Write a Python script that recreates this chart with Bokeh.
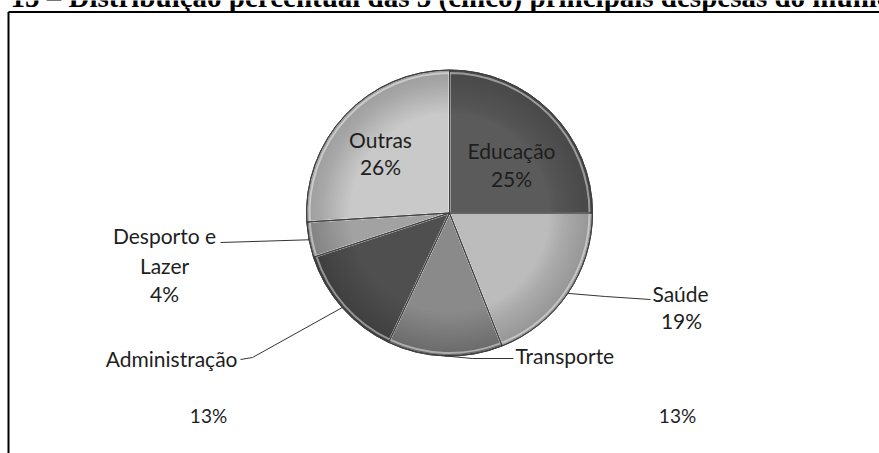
import numpy as np
from bokeh.plotting import figure
from bokeh.models import Range1d
from bokeh.core.properties import value
from bokeh.embed import file_html
from bokeh.resources import INLINE

# ---------------- data ----------------
title_text = "15 – Distribuição percentual das 5 (cinco) principais despesas do município"
categories = ["Educação", "Saúde", "Transporte", "Administração", "Desporto e Lazer", "Outras"]
shares = [25, 19, 13, 13, 4, 26]
pct_labels = ["25%", "19%", "13%", "13%", "4%", "26%"]
slice_colors = ["#5b5b5b", "#bcbcbc", "#8a8a8a", "#4f4f4f", "#a2a2a2", "#c9c9c9"]

# ---------------- layout ----------------
W, H = 879, 453
def Y(y):
    return H - y

CX, CY, R = 449.0, 212.5, 143.0
FONT = value("Lato")
FS = "21px"

p = figure(width=W, height=H, x_range=Range1d(0, W), y_range=Range1d(0, H),
           output_backend="svg", toolbar_location=None, min_border=0,
           x_axis_location=None, y_axis_location=None)
p.grid.visible = False
p.outline_line_color = None
p.background_fill_color = "white"
p.border_fill_color = "white"

# title (cut off at the top like the scan)
p.text(x=[10], y=[Y(-3.5)], text=[title_text], text_font=value("Liberation Serif"),
       text_font_style="bold", text_font_size="29px", text_baseline="middle",
       text_align="left", text_color="black")

# frame of the chart box
p.line(x=[8, W], y=[Y(11.5), Y(11.5)], line_color="black", line_width=2)
p.line(x=[8, 8], y=[Y(11.5), 0], line_color="black", line_width=2)

# ---------------- pie ----------------
vals = np.array(shares, dtype=float)
frac = vals / vals.sum()
cum = np.concatenate([[0.0], np.cumsum(frac)])
start = np.radians(90 - cum[:-1] * 360)
end = np.radians(90 - cum[1:] * 360)
mid = (start + end) / 2

cy = Y(CY)
p.wedge(x=CX, y=cy, radius=R, start_angle=start, end_angle=end, direction="clock",
        fill_color=slice_colors, line_color="#3a3a3a", line_width=1)
for k in range(16):
    r_in = R * (0.70 + 0.0185 * k)
    p.annular_wedge(x=CX, y=cy, inner_radius=r_in, outer_radius=R,
                    start_angle=start, end_angle=end, direction="clock",
                    fill_color="black", fill_alpha=0.011, line_color=None)
p.wedge(x=CX, y=cy, radius=R - 3, start_angle=start, end_angle=end, direction="clock",
        fill_color=None, line_color="white", line_alpha=0.45, line_width=2)
p.wedge(x=CX, y=cy, radius=R, start_angle=start, end_angle=end, direction="clock",
        fill_color=None, line_color="#404040", line_width=1)

# ---------------- labels ----------------
text_col = "#1e1e1e"
p.text(x=[511, 511, 380, 380], y=[Y(150), Y(178), Y(138.5), Y(166)],
       text=[categories[0], pct_labels[0], categories[5], pct_labels[5]],
       text_font=FONT, text_font_size=FS, text_align="center",
       text_baseline="middle", text_color=text_col)
p.text(x=[680, 681], y=[Y(293), Y(320)], text=[categories[1], pct_labels[1]],
       text_font=FONT, text_font_size=FS, text_align="center",
       text_baseline="middle", text_color=text_col)
p.text(x=[515], y=[Y(355)], text=[categories[2]], text_font=FONT, text_font_size=FS,
       text_align="left", text_baseline="middle", text_color=text_col)
p.text(x=[237], y=[Y(358)], text=[categories[3]], text_font=FONT, text_font_size=FS,
       text_align="right", text_baseline="middle", text_color=text_col)
desp_words = categories[4].split(" ")
p.text(x=[164, 164, 164], y=[Y(235), Y(265), Y(293)],
       text=[desp_words[0] + " " + desp_words[1], desp_words[2], pct_labels[4]],
       text_font=FONT, text_font_size=FS, text_align="center",
       text_baseline="middle", text_color=text_col)
p.text(x=[208, 677], y=[Y(415), Y(415)], text=[pct_labels[3], pct_labels[2]],
       text_font=FONT, text_font_size="19px", text_align="center",
       text_baseline="middle", text_color=text_col)

# ---------------- leader lines ----------------
def edge(i):
    return CX + R * np.cos(mid[i]), cy + R * np.sin(mid[i])

lc = "#333333"
ex, ey = edge(1)
p.line(x=[ex, 605, 650], y=[ey, Y(296), Y(299)], line_color=lc, line_width=1)
ex, ey = edge(2)
p.line(x=[ex, 472, 513], y=[ey, Y(358), Y(358)], line_color=lc, line_width=1)
ex, ey = edge(3)
p.line(x=[ex, 252, 240], y=[ey, Y(357), Y(359)], line_color=lc, line_width=1)
ex, ey = edge(4)
p.line(x=[ex, 220], y=[ey, Y(242)], line_color=lc, line_width=1)

open("out.html", "w").write(file_html(p, INLINE))
